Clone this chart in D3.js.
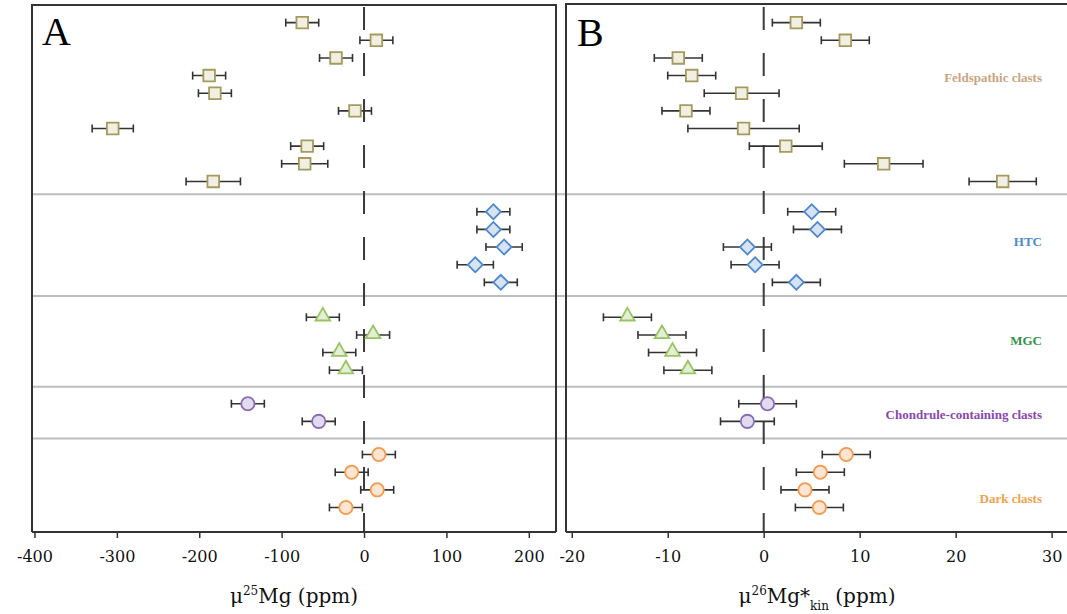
<!DOCTYPE html>
<html>
<head>
<meta charset="utf-8">
<script src="https://cdn.jsdelivr.net/npm/d3@7"></script>
<style>
  body { margin: 0; background: #fff; }
  svg { display: block; }
</style>
</head>
<body>
<script>
// panel A: mu25Mg (ppm), panel B: mu26Mg*kin (ppm), rows top to bottom
var feldA = [-75, 15, -34, -188, -181, -11, -305, -69, -72, -183],
    feldAErr = [20, 20, 20, 20, 20, 20, 25, 20, 28, 33],
    htcA = [157, 157, 170, 135, 166],
    htcAErr = [20, 20, 22, 22, 20],
    mgcA = [-50, 11, -30, -22],
    mgcAErr = [20, 20, 20, 20],
    chA = [-141, -55],
    chAErr = [20, 20],
    darkA = [18, -15, 16, -22],
    darkAErr = [20, 20, 20, 20];

var feldB = [3.4, 8.5, -8.9, -7.5, -2.3, -8.1, -2.1, 2.3, 12.5, 24.9],
    feldBErr = [2.5, 2.5, 2.5, 2.5, 3.9, 2.5, 5.8, 3.8, 4.1, 3.5],
    htcB = [5.0, 5.6, -1.7, -0.9, 3.4],
    htcBErr = [2.5, 2.5, 2.5, 2.5, 2.5],
    mgcB = [-14.2, -10.6, -9.5, -7.9],
    mgcBErr = [2.5, 2.5, 2.5, 2.5],
    chB = [0.4, -1.7],
    chBErr = [3.0, 2.8],
    darkB = [8.6, 5.9, 4.3, 5.8],
    darkBErr = [2.5, 2.5, 2.5, 2.5];

var groupNames = ["Feldspathic clasts", "HTC", "MGC", "Chondrule-containing clasts", "Dark clasts"];
var ticksA = [-400, -300, -200, -100, 0, 100, 200],
    ticksB = [-20, -10, 0, 10, 20, 30];

var W = 1067, H = 614;
var top_ = 5, bottom = 532;

// row layout (slot units)
var groupStart = [1, 11.72, 17.7, 22.6, 25.48],
    separators = [10.72, 16.5, 21.64, 24.57];

var styles = [
  { shape: "square", fill: "#f0efe1", stroke: "#a59a5e", label: "#c9a57f" },
  { shape: "diamond", fill: "#d5e3f3", stroke: "#4f88cf", label: "#4a8bd0" },
  { shape: "triangle", fill: "#e3eed3", stroke: "#98c464", label: "#2f9446" },
  { shape: "circle", fill: "#e2daee", stroke: "#8a6bb6", label: "#8a47b0" },
  { shape: "circle", fill: "#fde5d1", stroke: "#f39a4e", label: "#f0a24a" }
];

var valsA = [feldA, htcA, mgcA, chA, darkA],
    errsA = [feldAErr, htcAErr, mgcAErr, chAErr, darkAErr],
    valsB = [feldB, htcB, mgcB, chB, darkB],
    errsB = [feldBErr, htcBErr, mgcBErr, chBErr, darkBErr];

function rows(vals, errs) {
  var out = [];
  vals.forEach(function(arr, g) {
    arr.forEach(function(v, i) {
      out.push({ g: g, v: v, e: errs[g][i], r: groupStart[g] + i });
    });
  });
  return out;
}

var y = d3.scaleLinear().domain([0, 29.87]).range([top_, bottom]);
var xA = d3.scaleLinear().domain([-403, 233]).range([32, 556]);
var xB = d3.scaleLinear().domain([-20.6, 31.6]).range([566, 1067]);

var svg = d3.select("body").append("svg").attr("width", W).attr("height", H);

// gray separators across both panels
svg.selectAll("line.sep")
   .data(separators)
   .enter()
   .append("line")
   .attr("class", "sep")
   .attr("x1", 32).attr("x2", W)
   .attr("y1", function(d) { return y(d); })
   .attr("y2", function(d) { return y(d); })
   .attr("stroke", "#bdbdbd")
   .attr("stroke-width", 2);

function symbolPath(shape) {
  if (shape === "square") return d3.symbol(d3.symbolSquare, 135)();
  if (shape === "diamond") return d3.symbol(d3.symbolSquare, 112)();
  if (shape === "triangle") return d3.symbol(d3.symbolTriangle, 92)();
  return d3.symbol(d3.symbolCircle, 138)();
}

function panel(x, data, ticks, frameTop, frameRight) {
  var g = svg.append("g");

  // frame
  g.append("path")
   .attr("d", "M" + x.range()[0] + "," + bottom + "V" + frameTop + "H" + frameRight +
        (frameRight < W ? "V" + bottom : ""))
   .attr("fill", "none")
   .attr("stroke", "#333")
   .attr("stroke-width", 2);

  // zero line
  g.append("line")
   .attr("x1", x(0)).attr("x2", x(0))
   .attr("y1", 7).attr("y2", bottom)
   .attr("stroke", "#3a3a3a")
   .attr("stroke-width", 2)
   .attr("stroke-dasharray", "23,23");

  var axis = d3.axisBottom(x)
               .tickValues(ticks)
               .tickSize(6)
               .tickSizeOuter(0)
               .tickPadding(13)
               .tickFormat(d3.format("d"));

  var ax = g.append("g")
            .attr("transform", "translate(0," + bottom + ")")
            .call(axis);
  ax.select(".domain")
    .attr("d", "M" + x.range()[0] + ",0H" + Math.min(frameRight, W))
    .attr("stroke", "#333").attr("stroke-width", 2);
  ax.selectAll(".tick line").attr("stroke", "#333").attr("stroke-width", 1.5);
  ax.selectAll(".tick text")
    .attr("fill", "#111")
    .attr("font-family", "DejaVu Serif")
    .attr("font-size", "16px")
    .text(function(d) { return d < 0 ? "-" + Math.abs(d) : d; });

  var pts = g.selectAll("g.pt")
             .data(data)
             .enter()
             .append("g")
             .attr("class", "pt");

  pts.append("line")
     .attr("x1", function(d) { return x(d.v - d.e); })
     .attr("x2", function(d) { return x(d.v + d.e); })
     .attr("y1", function(d) { return y(d.r); })
     .attr("y2", function(d) { return y(d.r); })
     .attr("stroke", "#333").attr("stroke-width", 1.6);

  [-1, 1].forEach(function(s) {
    pts.append("line")
       .attr("x1", function(d) { return x(d.v + s * d.e); })
       .attr("x2", function(d) { return x(d.v + s * d.e); })
       .attr("y1", function(d) { return y(d.r) - 4; })
       .attr("y2", function(d) { return y(d.r) + 4; })
       .attr("stroke", "#333").attr("stroke-width", 1.6);
  });

  pts.append("path")
     .attr("d", function(d) { return symbolPath(styles[d.g].shape); })
     .attr("transform", function(d) {
       var t = "translate(" + x(d.v) + "," + y(d.r) + ")";
       if (styles[d.g].shape === "diamond") t += " rotate(45)";
       if (styles[d.g].shape === "triangle") t += " translate(0,-1)";
       return t;
     })
     .attr("fill", function(d) { return styles[d.g].fill; })
     .attr("stroke", function(d) { return styles[d.g].stroke; })
     .attr("stroke-width", 1.8);
  return g;
}

panel(xA, rows(valsA, errsA), ticksA, top_, 556);
panel(xB, rows(valsB, errsB), ticksB, 4, W + 5);

// panel letters
svg.append("text").attr("x", 42).attr("y", 45)
   .attr("font-family", "Liberation Serif").attr("font-size", "40px")
   .attr("fill", "#000").text("A");
svg.append("text").attr("x", 577).attr("y", 46)
   .attr("font-family", "Liberation Serif").attr("font-size", "40px")
   .attr("fill", "#000").text("B");

// group labels in panel B
var labelY = [77, 241.5, 340, 414.5, 498.5];
svg.selectAll("text.grp")
   .data(groupNames)
   .enter()
   .append("text")
   .attr("class", "grp")
   .attr("x", 1042)
   .attr("y", function(d, i) { return labelY[i]; })
   .attr("dy", "0.35em")
   .attr("text-anchor", "end")
   .attr("font-family", "Liberation Serif")
   .attr("font-weight", "bold")
   .attr("font-size", "13px")
   .attr("fill", function(d, i) { return styles[i].label; })
   .text(function(d) { return d; });

// axis titles
var tA = svg.append("text")
   .attr("x", (32 + 556) / 2).attr("y", 603)
   .attr("text-anchor", "middle")
   .attr("font-family", "DejaVu Serif").attr("font-size", "20px")
   .attr("fill", "#111");
tA.append("tspan").text("\u03bc");
tA.append("tspan").attr("font-size", "12px").attr("dy", -8).text("25");
tA.append("tspan").attr("dy", 8).text("Mg (ppm)");

var tB = svg.append("text")
   .attr("x", 817).attr("y", 603)
   .attr("text-anchor", "middle")
   .attr("font-family", "DejaVu Serif").attr("font-size", "20px")
   .attr("fill", "#111");
tB.append("tspan").text("\u03bc");
tB.append("tspan").attr("font-size", "12px").attr("dy", -8).text("26");
tB.append("tspan").attr("dy", 8).text("Mg*");
tB.append("tspan").attr("font-size", "12px").attr("dy", 7).text("kin");
tB.append("tspan").attr("dy", -7).text(" (ppm)");
</script>
</body>
</html>
